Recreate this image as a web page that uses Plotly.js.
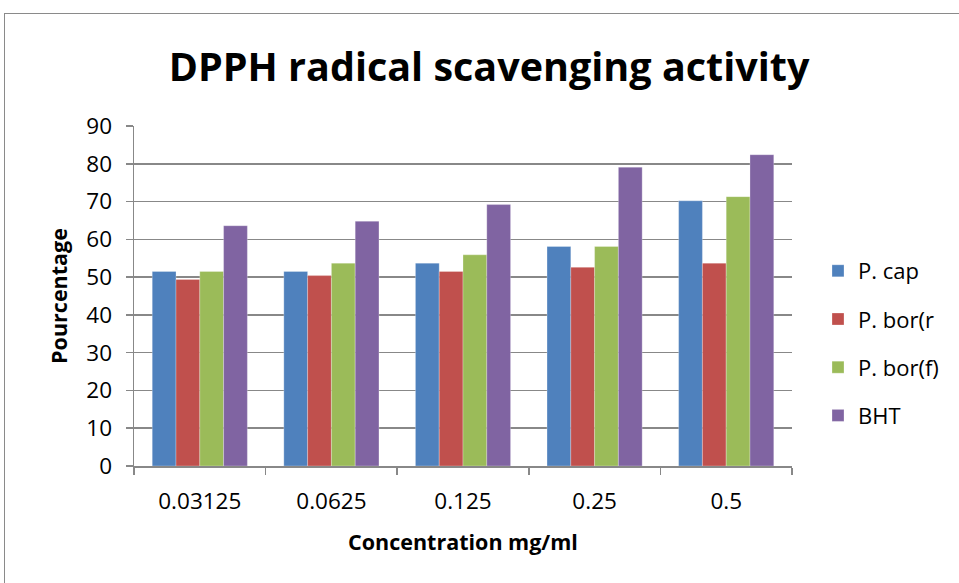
<!DOCTYPE html>
<html>
<head>
<meta charset="utf-8">
<script src="https://cdn.plot.ly/plotly-3.0.1.min.js"></script>
<style>
  html, body { margin: 0; padding: 0; background: #fff; }
  #wrap { position: relative; width: 959px; height: 583px; overflow: hidden; }
  #chart { width: 959px; height: 583px; }
  #frame { position: absolute; left: 4px; top: 13px; width: 1000px; height: 700px;
           border-left: 1.5px solid #8a8a8a; border-top: 1.5px solid #8a8a8a; pointer-events: none; }
</style>
</head>
<body>
<div id="wrap">
  <div id="chart"></div>
  <div id="frame"></div>
</div>
<script>
const categories = ["0.03125", "0.0625", "0.125", "0.25", "0.5"];
const seriesNames = ["P. cap", "P. bor(r", "P. bor(f)", "BHT"];
const pCap  = [51.5, 51.5, 53.7, 58.1, 70.2];
const pBorR = [49.4, 50.4, 51.5, 52.6, 53.7];
const pBorF = [51.5, 53.7, 55.9, 58.1, 71.3];
const bht   = [63.6, 64.8, 69.2, 79.1, 82.4];
const seriesValues = [pCap, pBorR, pBorF, bht];
const colors = ["#4F81BD", "#C0504D", "#9BBB59", "#8064A2"];

const FONT = "'Open Sans', 'Noto Sans', sans-serif";
const gridCol = "#888888";

const traces = seriesNames.map((name, i) => ({
  type: "bar",
  name: name,
  x: categories,
  y: seriesValues[i],
  legendgroup: "g" + i,
  marker: { color: colors[i], line: { color: "rgba(255,255,255,0.45)", width: 0.6 } }
}));

const layout = {
  width: 959, height: 583,
  paper_bgcolor: "#ffffff", plot_bgcolor: "#ffffff",
  margin: { l: 134, r: 167, t: 126, b: 117 },
  barmode: "group", bargap: 0.277, bargroupgap: 0,
  font: { family: FONT, color: "#000000", size: 20 },
  title: {
    text: "<b>DPPH radical scavenging activity</b>",
    font: { family: FONT, size: 39.5, color: "#000000" },
    xref: "container", x: 0.51, xanchor: "center",
    yref: "container", y: 1 - 67/583, yanchor: "middle"
  },
  xaxis: {
    type: "category",
    showline: true, linecolor: gridCol, linewidth: 1.5,
    ticks: "outside", tickson: "boundaries", ticklen: 7, tickcolor: gridCol, tickwidth: 1.5,
    tickfont: { family: FONT, size: 22.5, color: "#000" },
    ticklabelstandoff: 14,
    showgrid: false, zeroline: false,
    title: { text: "<b>Concentration mg/ml</b>", font: { family: FONT, size: 21.5, color: "#000" }, standoff: 20 }
  },
  yaxis: {
    range: [0, 90], dtick: 10, tick0: 0,
    showline: true, linecolor: gridCol, linewidth: 1.5,
    ticks: "outside", ticklen: 7, tickcolor: gridCol, tickwidth: 1.5,
    ticklabelstandoff: 9,
    showgrid: true, gridcolor: gridCol, gridwidth: 1.5,
    zeroline: false,
    tickfont: { family: FONT, size: 22.5, color: "#000" },
    title: { text: "<b>Pourcentage</b>", font: { family: FONT, size: 21.5, color: "#000" }, standoff: 12 }
  },
  legend: {
    xref: "container", yref: "container",
    x: 818/959, xanchor: "left",
    y: 1 - 250/583, yanchor: "top",
    font: { family: FONT, size: 22, color: "#000" },
    tracegroupgap: 16.6, traceorder: "grouped",
    bgcolor: "rgba(0,0,0,0)"
  },
  showlegend: true
};

Plotly.newPlot("chart", traces, layout, { displayModeBar: false, staticPlot: true });
</script>
</body>
</html>
